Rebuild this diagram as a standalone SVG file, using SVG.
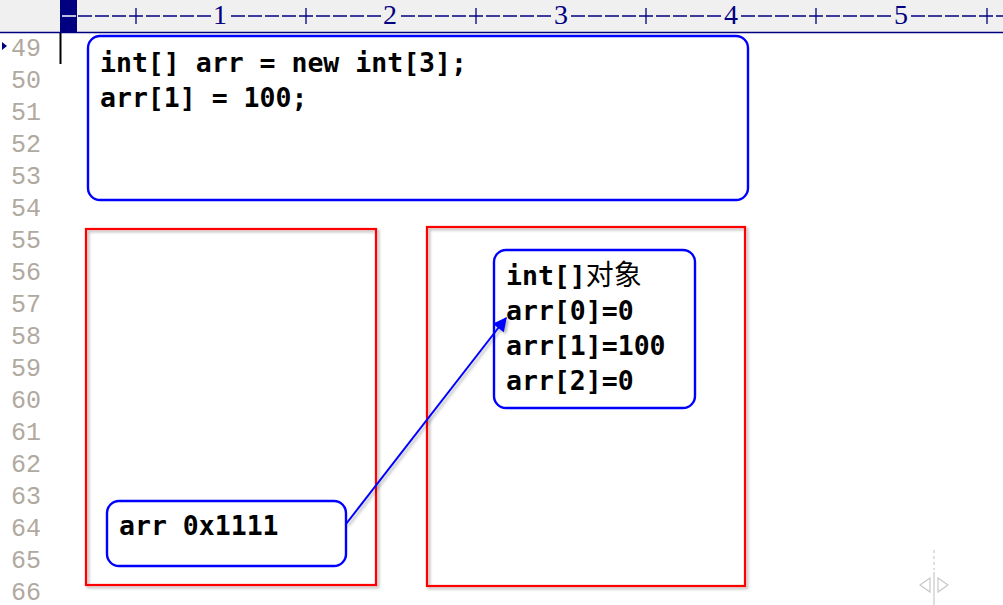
<svg xmlns="http://www.w3.org/2000/svg" width="1003" height="605" viewBox="0 0 1003 605">
<defs>
<style>
.code{font-family:"DejaVu Sans Mono","Liberation Mono",monospace;font-weight:bold;font-size:26.5px;fill:#000}
.cjk{font-family:"Noto Sans CJK SC",sans-serif;font-weight:normal;font-size:28px}
.ln{font-family:"Liberation Mono",monospace;font-size:25px;fill:#b0a99f}
.rn{font-family:"Liberation Serif",serif;font-size:28px;fill:#000080}
.blue{fill:#fff;stroke:#0000ff;stroke-width:2.4}
.red{fill:none;stroke:#ff0000;stroke-width:2.2}
</style>
<filter id="sh" x="-5%" y="-5%" width="115%" height="115%">
<feDropShadow dx="2" dy="2" stdDeviation="1.5" flood-color="#000" flood-opacity="0.3"/>
</filter>
<marker id="arr" viewBox="0 0 10 10" refX="9" refY="5" markerWidth="8" markerHeight="7" orient="auto" markerUnits="strokeWidth">
<path d="M0,0 L10,5 L0,10 z" fill="#0000ff"/>
</marker>
</defs>
<rect width="1003" height="605" fill="#fff"/>
<g id="ruler">
<rect x="0" y="0" width="1003" height="32" fill="#f0f0f0"/>
<line x1="0" y1="32.5" x2="1003" y2="32.5" stroke="#000080" stroke-width="1.5"/>
<rect x="60" y="0" width="17" height="32" fill="#000080"/>
<line x1="62" y1="16" x2="76" y2="16" stroke="#fff" stroke-width="1.5"/>
<line x1="78" y1="16" x2="1003" y2="16" stroke="#000080" stroke-width="1.3" stroke-dasharray="14 3"/>
<g fill="#f0f0f0">
<rect x="212" y="2" width="17" height="28"/>
<rect x="382" y="2" width="17" height="28"/>
<rect x="553" y="2" width="17" height="28"/>
<rect x="723" y="2" width="17" height="28"/>
<rect x="894" y="2" width="17" height="28"/>
</g>
<g stroke="#000080" stroke-width="1.3">
<line x1="136" y1="8" x2="136" y2="24"/>
<line x1="306" y1="8" x2="306" y2="24"/>
<line x1="476" y1="8" x2="476" y2="24"/>
<line x1="646" y1="8" x2="646" y2="24"/>
<line x1="816" y1="8" x2="816" y2="24"/>
<line x1="987" y1="8" x2="987" y2="24"/>
</g>
<text class="rn" x="220" y="24" text-anchor="middle">1</text>
<text class="rn" x="390" y="24" text-anchor="middle">2</text>
<text class="rn" x="561" y="24" text-anchor="middle">3</text>
<text class="rn" x="731" y="24" text-anchor="middle">4</text>
<text class="rn" x="901" y="24" text-anchor="middle">5</text>
</g>
<g id="gutter">
<path d="M2,42 L7,46 L2,50 z" fill="#000080"/>
<line x1="60.5" y1="33" x2="60.5" y2="64" stroke="#000" stroke-width="2"/>
<text class="ln" x="11" y="56">49</text>
<text class="ln" x="11" y="88">50</text>
<text class="ln" x="11" y="120">51</text>
<text class="ln" x="11" y="152">52</text>
<text class="ln" x="11" y="184">53</text>
<text class="ln" x="11" y="216">54</text>
<text class="ln" x="11" y="248">55</text>
<text class="ln" x="11" y="280">56</text>
<text class="ln" x="11" y="312">57</text>
<text class="ln" x="11" y="344">58</text>
<text class="ln" x="11" y="376">59</text>
<text class="ln" x="11" y="408">60</text>
<text class="ln" x="11" y="440">61</text>
<text class="ln" x="11" y="472">62</text>
<text class="ln" x="11" y="504">63</text>
<text class="ln" x="11" y="536">64</text>
<text class="ln" x="11" y="568">65</text>
<text class="ln" x="11" y="600">66</text>
</g>
<g id="code">
<rect class="blue" x="88" y="36" width="660" height="164" rx="12"/>
<text class="code" x="100" y="72">int[] arr = new int[3];</text>
<text class="code" x="100" y="107">arr[1] = 100;</text>
</g>
<g id="stack">
<rect class="red" x="86" y="229" width="290" height="356" filter="url(#sh)"/>
</g>
<g id="heap">
<rect class="red" x="427" y="227" width="318" height="359" filter="url(#sh)"/>
</g>
<g id="object">
<rect class="blue" x="494" y="250" width="201" height="158" rx="12"/>
<text class="code" x="506" y="285">int[]<tspan class="cjk">对象</tspan></text>
<text class="code" x="506" y="320">arr[0]=0</text>
<text class="code" x="506" y="355">arr[1]=100</text>
<text class="code" x="506" y="390">arr[2]=0</text>
</g>
<g id="var">
<rect class="blue" x="107" y="501" width="239" height="65" rx="12"/>
<text class="code" x="119" y="535">arr 0x1111</text>
</g>
<g id="connectors">
<line x1="346" y1="524" x2="506" y2="318" stroke="#0000ff" stroke-width="2" marker-end="url(#arr)" filter="url(#sh)"/>
</g>
<g id="icon" stroke="#c8c8c8" fill="none" stroke-width="1.2">
<line x1="934" y1="550" x2="934" y2="570" stroke-dasharray="3 3"/>
<line x1="934" y1="572" x2="934" y2="605"/>
<path d="M930,578 L920,585 L930,592 z"/>
<path d="M938,578 L948,585 L938,592 z"/>
</g>
</svg>
